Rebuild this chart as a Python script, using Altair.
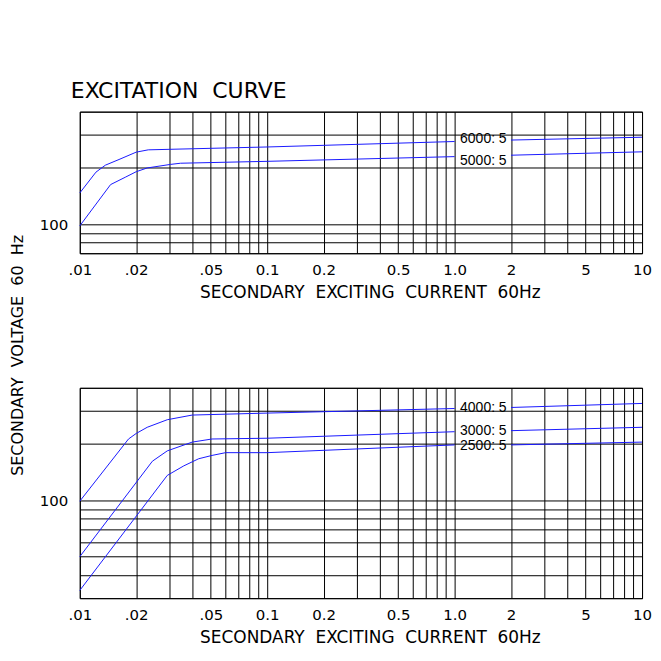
import altair as alt
import pandas as pd

FONT = "DejaVu Sans"
NB = "\u00a0"

# axis values
x_ticks = [0.01, 0.02, 0.05, 0.1, 0.2, 0.5, 1, 2, 5, 10]
x_tick_labels = [".01", ".02", ".05", "0.1", "0.2", "0.5", "1.0", "2", "5", "10"]
x_grid = [round(k * 10.0 ** e, 3) for e in (-2, -1, 0) for k in range(1, 10)] + [10]
top_y_grid = [70, 80, 90, 100, 200, 300, 400]
bot_y_grid = [30, 40, 50, 60, 70, 80, 90, 100, 200, 300, 400]

# excitation curves: secondary current (A) -> secondary voltage (V)
c6000_x = [0.01, 0.0122, 0.0137, 0.0162, 0.02, 0.0232, 0.1, 1.0, 2, 10]
c6000_y = [147, 190, 207, 222, 243, 250, 259, 277, 282, 292]
c5000_x = [0.01, 0.0146, 0.0176, 0.02, 0.0229, 0.0305, 0.0345, 0.1, 1.0, 2, 10]
c5000_y = [98, 163, 179, 191, 200, 209, 212, 217, 230, 234, 244]
c4000_x = [0.01, 0.0182, 0.02, 0.0229, 0.0293, 0.0398, 0.1, 1.0, 2, 10]
c4000_y = [99, 213, 228, 246, 270, 286, 293, 310, 314, 330]
c3000_x = [0.01, 0.0244, 0.0293, 0.0398, 0.0508, 0.1, 1.0, 2, 10]
c3000_y = [50, 162, 184, 205, 213, 215, 233, 236, 246]
c2500_x = [0.01, 0.0293, 0.0359, 0.0431, 0.0508, 0.06, 0.1, 1.0, 2, 10]
c2500_y = [33, 136, 153, 167, 174, 180, 180, 198, 198, 205]

# ratio labels sit in the gap of each curve between 1.0 and 2 A
top_ratios = ["6000: 5", "5000: 5"]
top_label_y = [284, 217]
bot_ratios = ["4000: 5", "3000: 5", "2500: 5"]
bot_label_y = [311, 236, 196]
label_x = 1.07


def curves(pairs):
    rows = []
    for name, xs, ys in pairs:
        for cx, cy in zip(xs, ys):
            rows.append({"ratio": name, "seg": name + ("a" if cx <= 1.0 else "b"),
                         "current": cx, "volts": cy})
    return pd.DataFrame(rows)


x_expr = " : ".join(f"datum.value == {v} ? '{l}'" for v, l in zip(x_ticks, x_tick_labels)) + " : ''"
x_title = f"SECONDARY{NB}{NB}EXCITING{NB}{NB}CURRENT{NB}{NB}60Hz"


def panel(df, ratios, label_y, y_dom, y_grid, height, y_title=None):
    x = alt.X("current:Q",
              scale=alt.Scale(type="log", domain=[0.01, 10], nice=False),
              axis=alt.Axis(values=x_grid, labelExpr=x_expr, title=x_title,
                            labelOverlap=False, labelFlush=False,
                            labelPadding=9, titlePadding=7, titleX=291,
                            titleAlign="center", titleFontSize=17))
    yaxis = dict(values=y_grid, labelExpr="datum.value == 100 ? '100' : ''",
                 labelOverlap=False, labelPadding=12)
    if y_title:
        yaxis.update(title=y_title, titleAngle=270, titleX=-62, titleY=-33,
                     titleAlign="center", titleBaseline="middle")
    else:
        yaxis.update(title=None)
    y = alt.Y("volts:Q", scale=alt.Scale(type="log", domain=y_dom, nice=False),
              axis=alt.Axis(**yaxis))
    lines = alt.Chart(df).mark_line(color="#1a1aff", strokeWidth=1).encode(
        x=x, y=y, detail="seg:N")
    lab = pd.DataFrame({"ratio": ratios, "current": [label_x] * len(ratios),
                        "volts": label_y})
    text = alt.Chart(lab).mark_text(align="left", baseline="middle",
                                    font="Liberation Sans", fontSize=14,
                                    color="black").encode(
        x="current:Q", y="volts:Q", text="ratio:N")
    return (lines + text).properties(width=564, height=height)


top_df = curves([("6000: 5", c6000_x, c6000_y), ("5000: 5", c5000_x, c5000_y)])
bot_df = curves([("4000: 5", c4000_x, c4000_y), ("3000: 5", c3000_x, c3000_y),
                 ("2500: 5", c2500_x, c2500_y)])

top = panel(top_df, top_ratios, top_label_y, [70, 400], top_y_grid, 142).properties(
    title=alt.TitleParams(f"EXCITATION{NB}{NB}CURVE", anchor="start", frame="group",
                          font=FONT, fontSize=22, fontWeight="normal",
                          color="black", dx=-9, offset=2))
bottom = panel(bot_df, bot_ratios, bot_label_y, [30, 400], bot_y_grid, 211,
               y_title=f"SECONDARY{NB}{NB}VOLTAGE{NB}{NB}60{NB}{NB}Hz")

chart = (
    alt.vconcat(top, bottom, spacing=135, bounds="flush")
    .properties(background="white",
                padding={"left": 1, "top": 70, "right": 0, "bottom": 0})
    .configure_view(stroke="black", strokeWidth=1)
    .configure_axis(grid=True, gridColor="black", gridOpacity=1, gridWidth=1,
                    domain=False, ticks=False,
                    labelFont=FONT, labelFontSize=15, labelColor="black",
                    titleFont=FONT, titleFontSize=16, titleFontWeight="normal",
                    titleColor="black")
)

chart.save("out.html", embed_options={"renderer": "svg", "actions": False})
